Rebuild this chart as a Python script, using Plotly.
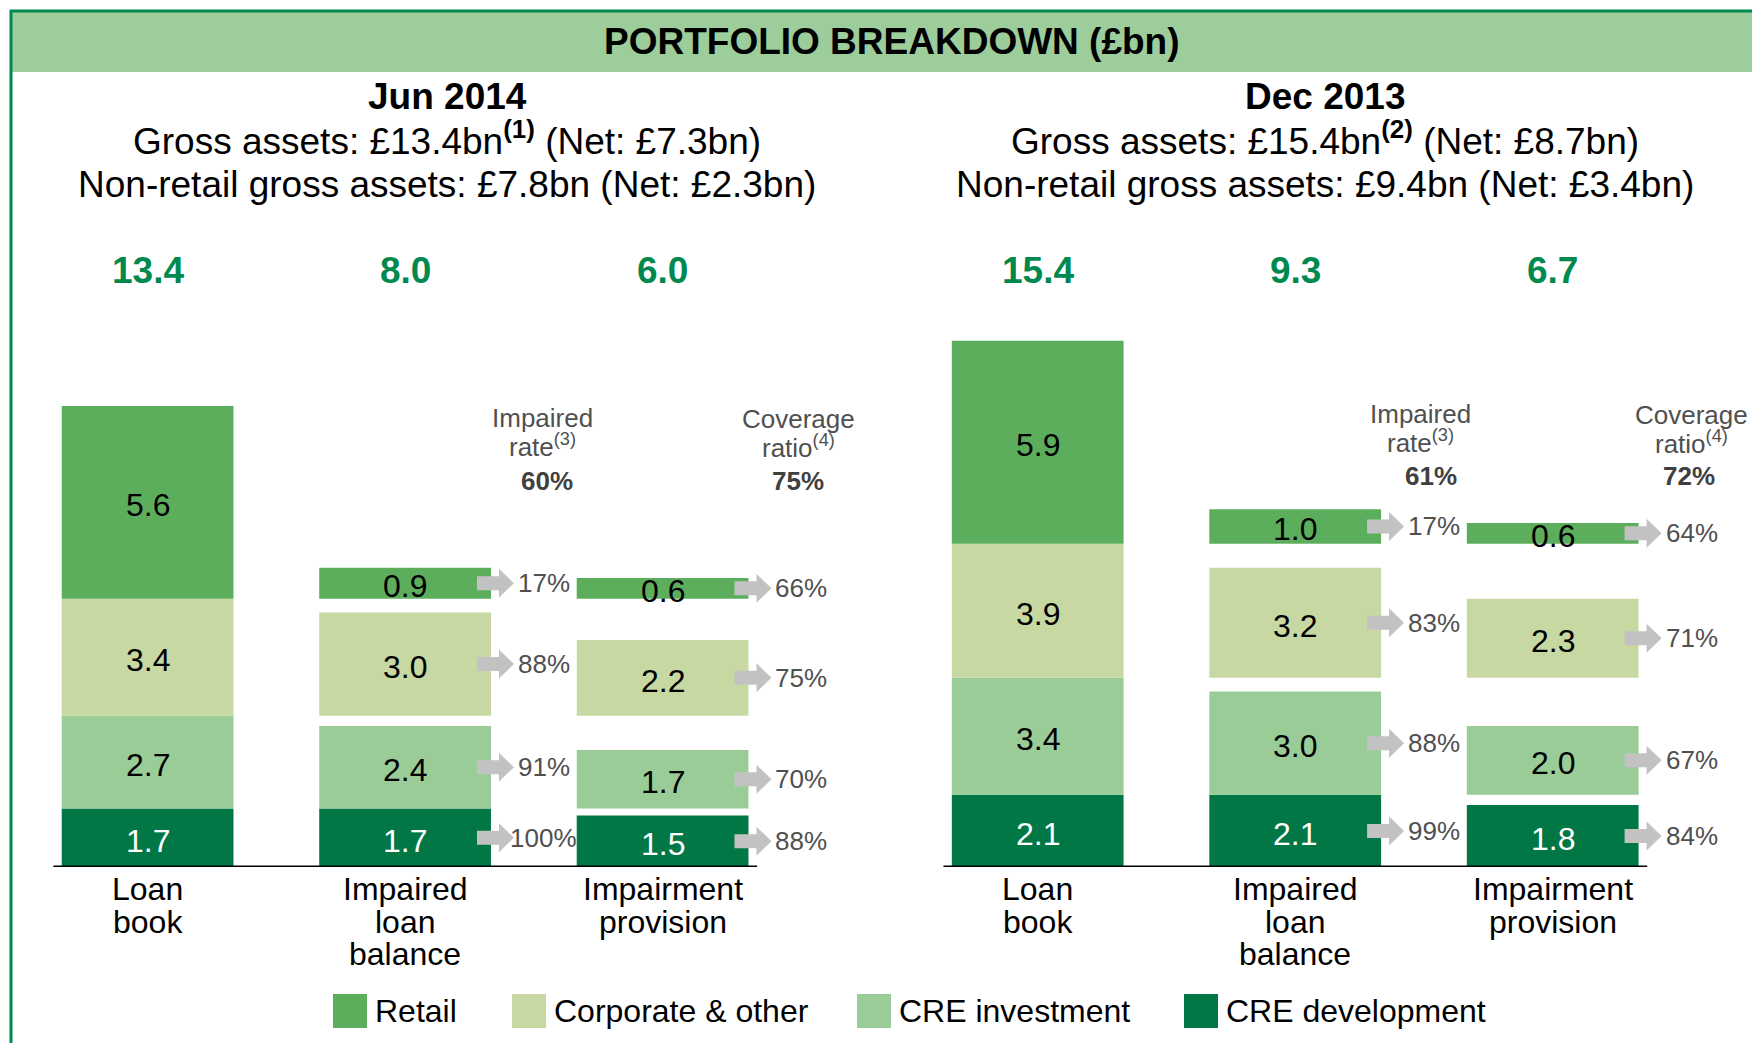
import plotly.graph_objects as go

# segments, bottom to top
segments = ["CRE development", "CRE investment", "Corporate & other", "Retail"]
seg_colors = ["#007745", "#9acc98", "#c7d8a2", "#5dae5c"]
label_colors = ["white", "black", "black", "black"]
legend_order = ["Retail", "Corporate & other", "CRE investment", "CRE development"]

columns = ["Loan<br>book", "Impaired<br>loan<br>balance", "Impairment<br>provision"]

# Jun 2014
jun_loan = [1.7, 2.7, 3.4, 5.6]
jun_impaired = [1.7, 2.4, 3.0, 0.9]
jun_provision = [1.5, 1.7, 2.2, 0.6]
jun_impaired_rate = ["100%", "91%", "88%", "17%"]
jun_coverage = ["88%", "70%", "75%", "66%"]
jun_totals = ["13.4", "8.0", "6.0"]
jun_rate_total = "60%"
jun_cov_total = "75%"

# Dec 2013
dec_loan = [2.1, 3.4, 3.9, 5.9]
dec_impaired = [2.1, 3.0, 3.2, 1.0]
dec_provision = [1.8, 2.0, 2.3, 0.6]
dec_impaired_rate = ["99%", "88%", "83%", "17%"]
dec_coverage = ["84%", "67%", "71%", "64%"]
dec_totals = ["15.4", "9.3", "6.7"]
dec_rate_total = "61%"
dec_cov_total = "72%"

W, H = 1760, 1043
OFF = 8  # page body margin
FONT = "Liberation Sans, Arial, sans-serif"
GREEN = "#00894f"
GREY = "#505050"


def fx(px):
    return (px - OFF) / W


def fy(py):
    return 1 - (py - OFF) / H


def note(x, y, text, size, color="black", xref="paper", yref="paper", **kw):
    d = dict(x=x, y=y, xref=xref, yref=yref, text=text, showarrow=False,
             xanchor="center", yanchor="middle",
             font=dict(family=FONT, size=size, color=color))
    d.update(kw)
    return d


BAR_W = 0.667
fig = go.Figure()
shapes = []
annotations = []

panels = [
    dict(xa="x", ya="y", loan=jun_loan, imp=jun_impaired, prov=jun_provision,
         rate=jun_impaired_rate, cov=jun_coverage, totals=jun_totals,
         rt=jun_rate_total, ct=jun_cov_total,
         title="Jun 2014", cx=447,
         gross="Gross assets: £13.4bn<b><sup>(1)</sup></b> (Net: £7.3bn)",
         nonret="Non-retail gross assets: £7.8bn (Net: £2.3bn)",
         hdr=[(542, 547, 798, 798), (418, 445, 481)]),
    dict(xa="x2", ya="y2", loan=dec_loan, imp=dec_impaired, prov=dec_provision,
         rate=dec_impaired_rate, cov=dec_coverage, totals=dec_totals,
         rt=dec_rate_total, ct=dec_cov_total,
         title="Dec 2013", cx=1325,
         gross="Gross assets: £15.4bn<b><sup>(2)</sup></b> (Net: £8.7bn)",
         nonret="Non-retail gross assets: £9.4bn (Net: £3.4bn)",
         hdr=[(1420, 1431, 1691, 1689), (414, 441, 476)]),
]

arrow_path = "M-14,-7 L8,-7 L8,-14.5 L23,0 L8,14.5 L8,7 L-14,7 Z"

for p in panels:
    bases = [sum(p["loan"][:i]) for i in range(4)]
    for i, seg in enumerate(segments):
        vals = [p["loan"][i], p["imp"][i], p["prov"][i]]
        fig.add_trace(go.Bar(
            x=[0, 1, 2], y=vals, base=[bases[i]] * 3, width=BAR_W,
            marker=dict(color=seg_colors[i], line=dict(width=0)),
            name=seg, showlegend=False, hoverinfo="skip",
            xaxis=p["xa"], yaxis=p["ya"]))
        for c, v in enumerate(vals):
            annotations.append(note(c, bases[i] + v / 2, "%.1f" % v, 32, label_colors[i],
                                    xref=p["xa"], yref=p["ya"], yshift=-3))
        # arrows + percentages
        for col, vals_col, pct in ((1, p["imp"], p["rate"]), (2, p["prov"], p["cov"])):
            yc = bases[i] + vals_col[i] / 2
            xe = col + BAR_W / 2
            shapes.append(dict(type="path", xref=p["xa"], yref=p["ya"],
                               xsizemode="pixel", ysizemode="pixel",
                               xanchor=xe, yanchor=yc, path=arrow_path,
                               fillcolor="#c2c2c2", line=dict(width=0)))
            annotations.append(note(xe, yc, pct[i], 26, GREY, xref=p["xa"],
                                    yref=p["ya"], xshift=53))
    # baseline
    shapes.append(dict(type="line", xref=p["xa"], yref=p["ya"], x0=-0.366, x1=2.367,
                       y0=0, y1=0, line=dict(color="black", width=3)))
    # totals and column labels
    for c in range(3):
        annotations.append(note(c, fy(270), "<b>%s</b>" % p["totals"][c], 37, GREEN,
                                xref=p["xa"]))
        for k, line in enumerate(columns[c].split("<br>")):
            annotations.append(note(c, fy(889 + k * 32.6), line, 32, xref=p["xa"]))
    # panel headers
    annotations.append(note(fx(p["cx"]), fy(97), "<b>%s</b>" % p["title"], 37))
    annotations.append(note(fx(p["cx"]), fy(138), p["gross"], 37))
    annotations.append(note(fx(p["cx"]), fy(184), p["nonret"], 37))
    (xi, xr, xc, xcr), (y1, y2, y3) = p["hdr"]
    for x, y, t, bold in ((xi, y1, "Impaired", False), (xi, y2, "rate<sup>(3)</sup>", False),
                          (xr, y3, p["rt"], True),
                          (xc, y1 + 1, "Coverage", False), (xc, y2 + 1, "ratio<sup>(4)</sup>", False),
                          (xcr, y3, p["ct"], True)):
        annotations.append(note(fx(x), fy(y), "<b>%s</b>" % t if bold else t, 26,
                                "#404040" if bold else GREY))

# frame and title band
shapes.append(dict(type="rect", xref="paper", yref="paper", x0=fx(11), x1=fx(1768),
                   y0=fy(72), y1=fy(12), fillcolor="#9dcd9b", line=dict(width=0), layer="below"))
shapes.append(dict(type="line", xref="paper", yref="paper", x0=fx(10), x1=fx(1768),
                   y0=fy(11), y1=fy(11), line=dict(color=GREEN, width=3)))
shapes.append(dict(type="line", xref="paper", yref="paper", x0=fx(11), x1=fx(11),
                   y0=0, y1=fy(10), line=dict(color=GREEN, width=3)))
annotations.append(note(fx(892), fy(41), "<b>PORTFOLIO BREAKDOWN (£bn)</b>", 37))

# legend
legend_x = [333, 512, 857, 1184]
for name, lx in zip(legend_order, legend_x):
    col = seg_colors[segments.index(name)]
    shapes.append(dict(type="rect", xref="paper", yref="paper", x0=fx(lx), x1=fx(lx + 34),
                       y0=fy(1028), y1=fy(994), fillcolor=col, line=dict(width=0)))
    annotations.append(note(fx(lx + 40), fy(1011), name, 32, xanchor="left"))

PXU = 34.4
ydom = [fy(867), fy(200)]
yrange = [0, (867 - 200) / PXU]
SP = 257.5
r_left = -(147.6 - OFF) / SP
r_right = -(1037.7 - (OFF + 880)) / SP
ax_off = dict(visible=False, showgrid=False, zeroline=False, fixedrange=True)
fig.update_layout(
    width=W, height=H, margin=dict(l=0, r=0, t=0, b=0),
    paper_bgcolor="white", plot_bgcolor="rgba(0,0,0,0)",
    barmode="overlay", showlegend=False,
    xaxis=dict(domain=[0, 0.5], range=[r_left, r_left + 880 / SP], **ax_off),
    xaxis2=dict(domain=[0.5, 1], range=[r_right, r_right + 880 / SP], **ax_off),
    yaxis=dict(domain=ydom, range=yrange, **ax_off),
    yaxis2=dict(domain=ydom, range=yrange, anchor="x2", **ax_off),
    shapes=shapes, annotations=annotations,
)

fig.write_html("out.html")
